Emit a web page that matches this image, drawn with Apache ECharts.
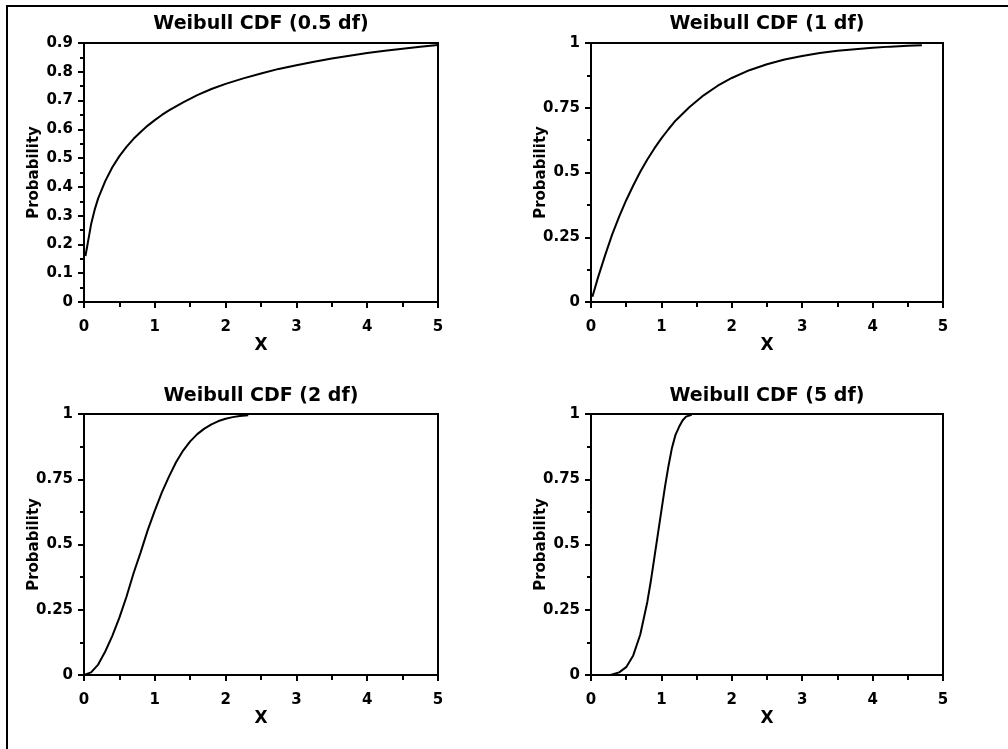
<!DOCTYPE html>
<html><head><meta charset="utf-8">
<script src="https://cdn.jsdelivr.net/npm/echarts@6/dist/echarts.min.js"></script>
<style>html,body{margin:0;padding:0;background:#fff}#c{width:1008px;height:749px}</style>
</head><body><div id="c"></div>
<script>
// ---- data ----
const titles = ['Weibull CDF (0.5 df)', 'Weibull CDF (1 df)', 'Weibull CDF (2 df)', 'Weibull CDF (5 df)'];
const xName = 'X';
const yName = 'Probability';
const xTicks = [0, 1, 2, 3, 4, 5];
const yTicks1 = [0, 0.1, 0.2, 0.3, 0.4, 0.5, 0.6, 0.7, 0.8, 0.9];
const yTicks2 = [0, 0.25, 0.5, 0.75, 1];

const x1 = [0.02, 0.05, 0.1, 0.15, 0.2, 0.3, 0.4, 0.5, 0.6, 0.7, 0.8, 0.9, 1.0, 1.1, 1.2, 1.4, 1.6, 1.8, 2.0, 2.25, 2.5, 2.75, 3.0, 3.25, 3.5, 3.75, 4.0, 4.25, 4.5, 4.75, 5.0];
const y1 = [0.16, 0.20, 0.27, 0.32, 0.36, 0.42, 0.468, 0.507, 0.539, 0.567, 0.591, 0.613, 0.632, 0.65, 0.666, 0.694, 0.719, 0.74, 0.758, 0.777, 0.794, 0.81, 0.823, 0.835, 0.846, 0.856, 0.865, 0.873, 0.88, 0.887, 0.893];

const x2 = [0.02, 0.1, 0.2, 0.3, 0.4, 0.5, 0.6, 0.7, 0.8, 0.9, 1.0, 1.1, 1.2, 1.4, 1.6, 1.8, 2.0, 2.25, 2.5, 2.75, 3.0, 3.25, 3.5, 3.75, 4.0, 4.25, 4.5, 4.7];
const y2 = [0.02, 0.095, 0.18, 0.26, 0.33, 0.393, 0.45, 0.503, 0.55, 0.593, 0.632, 0.667, 0.70, 0.753, 0.798, 0.835, 0.865, 0.895, 0.918, 0.936, 0.95, 0.961, 0.97, 0.976, 0.982, 0.986, 0.989, 0.991];

const x3 = [0.0, 0.1, 0.2, 0.3, 0.4, 0.5, 0.6, 0.7, 0.8, 0.9, 1.0, 1.1, 1.2, 1.3, 1.4, 1.5, 1.6, 1.7, 1.8, 1.9, 2.0, 2.1, 2.2, 2.32];
const y3 = [0.0, 0.01, 0.04, 0.09, 0.15, 0.22, 0.30, 0.39, 0.47, 0.555, 0.63, 0.70, 0.76, 0.815, 0.86, 0.895, 0.923, 0.944, 0.96, 0.973, 0.982, 0.988, 0.992, 0.995];

const x4 = [0.27, 0.3, 0.4, 0.5, 0.6, 0.7, 0.8, 0.85, 0.9, 0.95, 1.0, 1.05, 1.1, 1.15, 1.2, 1.25, 1.3, 1.35, 1.43];
const y4 = [0.0, 0.002, 0.01, 0.03, 0.075, 0.155, 0.28, 0.36, 0.45, 0.54, 0.63, 0.72, 0.80, 0.87, 0.92, 0.95, 0.975, 0.99, 0.997];

// ---- layout / style ----
const FONT = '"DejaVu Sans", sans-serif';
const grids = [
  {left: 84, top: 43, width: 354, height: 259},
  {left: 591, top: 43, width: 352, height: 259},
  {left: 84, top: 414, width: 354, height: 261},
  {left: 591, top: 414, width: 352, height: 261}
];
const titleY = [24, 24, 396, 396];
const yTickSets = [yTicks1, yTicks2, yTicks2, yTicks2];
const xsAll = [x1, x2, x3, x4];
const ysAll = [y1, y2, y3, y4];

const blackLine = {color: '#000', width: 2};

const option = {
  backgroundColor: '#fff',
  animation: false,
  grid: grids.map(g => Object.assign({show: true, borderColor: '#000', borderWidth: 2, backgroundColor: 'transparent', containLabel: false}, g)),
  xAxis: grids.map((g, i) => ({
    type: 'value', gridIndex: i,
    min: xTicks[0], max: xTicks[xTicks.length - 1], interval: xTicks[1] - xTicks[0],
    name: xName, nameLocation: 'middle', nameGap: 35, nameMoveOverlap: false,
    nameTextStyle: {color: '#000', fontFamily: FONT, fontSize: 17, fontWeight: 'bold'},
    axisLine: {show: true, onZero: false, lineStyle: blackLine},
    axisTick: {show: true, length: 6, lineStyle: blackLine},
    minorTick: {show: true, splitNumber: 2, length: 5, lineStyle: blackLine},
    axisLabel: {color: '#000', fontFamily: FONT, fontSize: 15, fontWeight: 'bold', margin: 18},
    splitLine: {show: false}, minorSplitLine: {show: false}
  })),
  yAxis: grids.map((g, i) => {
    const t = yTickSets[i];
    return {
      type: 'value', gridIndex: i,
      min: t[0], max: t[t.length - 1], interval: t[1] - t[0],
      name: yName, nameLocation: 'middle', nameGap: 42, nameMoveOverlap: false,
      nameTextStyle: {color: '#000', fontFamily: FONT, fontSize: 15, fontWeight: 'bold'},
      axisLine: {show: true, onZero: false, lineStyle: blackLine},
      axisTick: {show: true, length: 6, lineStyle: blackLine},
      minorTick: {show: true, splitNumber: 2, length: 4, lineStyle: blackLine},
      axisLabel: {color: '#000', fontFamily: FONT, fontSize: 15, fontWeight: 'bold', margin: 11, showMinLabel: true, showMaxLabel: true},
      splitLine: {show: false}, minorSplitLine: {show: false}
    };
  }),
  series: xsAll.map((xs, i) => ({
    type: 'line', xAxisIndex: i, yAxisIndex: i,
    data: xs.map((x, k) => [x, ysAll[i][k]]),
    showSymbol: false, symbol: 'none',
    lineStyle: {color: '#000', width: 2},
    clip: true
  })),
  graphic: [
    {type: 'polyline', shape: {points: [[7, 749], [7, 6], [1008, 6]]}, style: {stroke: '#000', lineWidth: 2, fill: null}, silent: true}
  ].concat(grids.map((g, i) => ({
    type: 'text', x: g.left + g.width / 2, y: titleY[i], silent: true,
    style: {text: titles[i], fill: '#000', font: 'bold 19px ' + FONT, align: 'center', verticalAlign: 'middle', textAlign: 'center', textVerticalAlign: 'middle'}
  })))
};

const chart = echarts.init(document.getElementById('c'), null, {renderer: 'canvas'});
chart.setOption(option);
</script>
</body></html>
